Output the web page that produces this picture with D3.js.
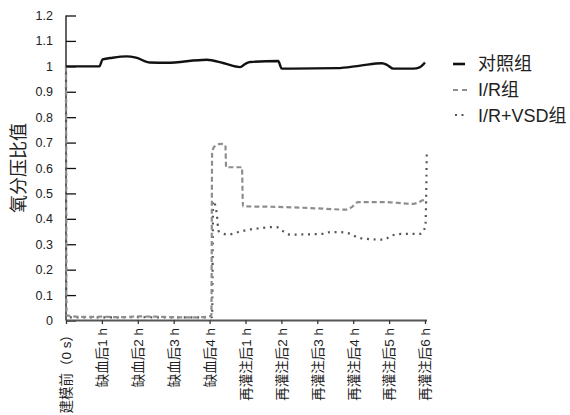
<!DOCTYPE html>
<html>
<head>
<meta charset="utf-8">
<script src="https://cdn.jsdelivr.net/npm/d3@7"></script>
<style>
  html, body { margin: 0; padding: 0; background: #fff; }
  svg { display: block; }
</style>
</head>
<body>
<svg id="chart" width="570" height="415"></svg>
<script>
// Time-point labels along the x axis (one per tick, index 0..10)
const timeLabels = ["建模前（0 s）", "缺血后1 h", "缺血后2 h", "缺血后3 h", "缺血后4 h",
  "再灌注后1 h", "再灌注后2 h", "再灌注后3 h", "再灌注后4 h", "再灌注后5 h", "再灌注后6 h"];

const yTicks = [0, 0.1, 0.2, 0.3, 0.4, 0.5, 0.6, 0.7, 0.8, 0.9, 1, 1.1, 1.2];

// Continuous recordings: [position on time axis, oxygen partial-pressure ratio]
const controlSeries = [[0, 1.0], [0.93, 1.0], [1.02, 1.027], [1.3, 1.034], [1.69, 1.039], [1.95, 1.034],
  [2.34, 1.015], [2.8, 1.014], [3.92, 1.026], [4.4, 1.012], [4.85, 0.997], [5.0, 1.01], [5.13, 1.017],
  [5.91, 1.021], [6.01, 0.991], [7.55, 0.993], [8.2, 1.003], [8.8, 1.012], [8.95, 1.005], [9.12, 0.991],
  [9.67, 0.991], [9.85, 0.996], [10.0, 1.015]];

const irSeries = [[0, 1.0], [0.01, 0.02], [0.5, 0.014], [1.0, 0.015], [1.5, 0.013], [2.0, 0.016],
  [2.5, 0.015], [3.0, 0.013], [3.5, 0.012], [3.95, 0.015], [4.05, 0.02], [4.07, 0.66], [4.13, 0.684],
  [4.31, 0.695], [4.44, 0.689], [4.46, 0.603], [4.9, 0.603], [4.93, 0.449], [5.5, 0.448], [6.5, 0.444],
  [7.16, 0.44], [7.83, 0.436], [7.95, 0.445], [8.14, 0.466], [8.84, 0.466], [9.67, 0.459], [9.92, 0.472],
  [10.0, 0.478]];

const vsdSeries = [[0, 1.0], [0.01, 0.012], [1.0, 0.012], [2.0, 0.013], [3.0, 0.012], [4.0, 0.012],
  [4.07, 0.015], [4.1, 0.47], [4.2, 0.42], [4.25, 0.352], [4.52, 0.338], [4.8, 0.348], [5.08, 0.357],
  [5.41, 0.363], [5.69, 0.367], [5.87, 0.367], [6.06, 0.35], [6.24, 0.338], [7.17, 0.341], [7.36, 0.348],
  [7.59, 0.348], [7.92, 0.341], [8.1, 0.328], [8.29, 0.322], [8.85, 0.318], [9.08, 0.335], [9.4, 0.341],
  [9.87, 0.341], [10.01, 0.37], [10.05, 0.669]];

const seriesNames = ["对照组", "I/R组", "I/R+VSD组"];

const svg = d3.select("#chart");
const latin = "'Liberation Sans', Arial, 'Noto Sans CJK SC', sans-serif";

const x = d3.scaleLinear().domain([0, 10]).range([66, 425]);
const y = d3.scaleLinear().domain([0, 1.2]).range([320.5, 15.5]);

// y axis: ticks pointing inward
const yAxis = d3.axisRight(y).tickValues(yTicks).tickSize(10).tickFormat(d3.format("~g"));
const gy = svg.append("g").attr("transform", `translate(${x(0)},0)`).call(yAxis);
gy.select(".domain").attr("stroke", "#111").attr("stroke-width", 1.3).attr("d", `M0,${y(0)}V${y(1.2)}`);
gy.selectAll(".tick line").attr("stroke", "#111").attr("stroke-width", 1.3);
gy.selectAll(".tick text")
  .attr("x", -13).attr("text-anchor", "end")
  .attr("font-family", latin).attr("font-size", 12.5).attr("fill", "#222");

// x axis: short outward ticks, vertical labels
const xAxis = d3.axisBottom(x).tickValues(d3.range(timeLabels.length)).tickSize(3.5)
  .tickFormat(i => timeLabels[i]);
const gx = svg.append("g").attr("transform", `translate(0,${y(0)})`).call(xAxis);
gx.select(".domain").attr("stroke", "#555").attr("stroke-width", 1.8).attr("d", `M${x(0)},0H${x(10) + 2}`);
gx.selectAll(".tick line").attr("stroke", "#333").attr("stroke-width", 1.3);
gx.selectAll(".tick text")
  .attr("transform", "rotate(-90)")
  .attr("x", -7.5).attr("y", 0).attr("dy", "0.36em")
  .attr("text-anchor", "end")
  .attr("font-family", latin).attr("font-size", 13.5).attr("fill", "#222");

// y title
svg.append("text")
  .attr("transform", `translate(25,${168}) rotate(-90)`)
  .attr("text-anchor", "middle")
  .attr("font-family", "'Noto Sans CJK SC', sans-serif").attr("font-size", 18).attr("fill", "#222")
  .text("氧分压比值");

const line = d3.line().x(d => x(d[0])).y(d => y(d[1])).curve(d3.curveMonotoneX);

const styles = [
  { color: "#111", width: 2.4, dash: null },
  { color: "#8e8e8e", width: 2.2, dash: "5,3" },
  { color: "#555", width: 2.2, dash: "2,4.7" }
];
const allSeries = [controlSeries, irSeries, vsdSeries];

// draw the treated groups first, the control on top
[2, 1, 0].forEach(i => {
  svg.append("path")
    .datum(allSeries[i])
    .attr("d", line)
    .attr("fill", "none")
    .attr("stroke", styles[i].color)
    .attr("stroke-width", styles[i].width)
    .attr("stroke-dasharray", styles[i].dash)
    .attr("stroke-linejoin", "round");
});

// legend
const legend = svg.append("g").attr("transform", "translate(453,64)");
seriesNames.forEach((name, i) => {
  const g = legend.append("g").attr("transform", `translate(0,${i * 26})`);
  g.append("line")
    .attr("x1", i === 2 ? 2 : 0).attr("x2", i === 0 ? 12 : 15)
    .attr("y1", i === 2 ? -1 : 0).attr("y2", i === 2 ? -1 : 0)
    .attr("stroke", styles[i].color)
    .attr("stroke-width", i === 0 ? 2.6 : 2)
    .attr("stroke-dasharray", i === 1 ? "5,4" : (i === 2 ? "2,4.5" : null));
  g.append("text")
    .attr("x", 25).attr("dy", "0.36em")
    .attr("font-family", latin).attr("font-size", 18).attr("fill", "#222")
    .text(name);
});
</script>
</body>
</html>
